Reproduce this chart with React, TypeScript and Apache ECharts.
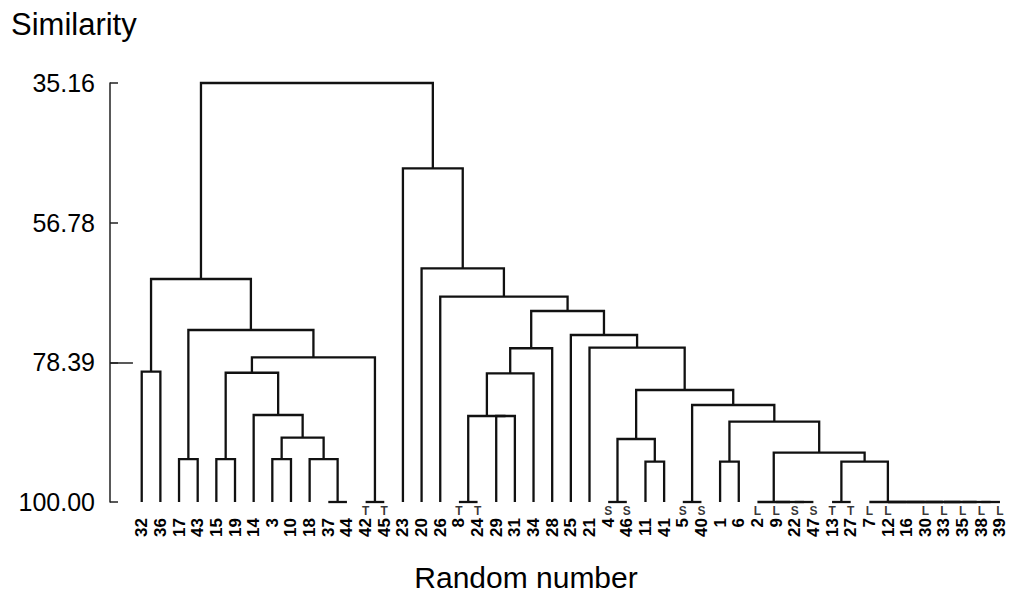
import React, { useEffect, useRef } from "react";
import * as echarts from "echarts";

// Leaves in dendrogram order (x axis tick labels)
const leafLabels = ["32","36","17","43","15","19","14","3","10","18","37","44","42","45","23","20","26","8","24","29","31","34","28","25","21","4","46","11","41","5","40","1","6","2","9","22","47","13","27","7","12","16","30","33","35","38","39"];

// Small group tags printed above some leaf labels
const leafTags: Record<string, string> = {
  "42": "T", "45": "T", "8": "T", "24": "T", "4": "S", "46": "S", "5": "S", "40": "S",
  "2": "L", "9": "L", "22": "S", "47": "S", "13": "T", "27": "T", "7": "L", "12": "L",
  "30": "L", "33": "L", "35": "L", "38": "L", "39": "L",
};

// Y tick labels (similarity)
const yTicks = [35.16, 56.78, 78.39, 100.0];
const cutLevel = 78.39;

// Merges: [child A, child B, similarity]; "mN" refers to the N-th merge
const merges: [string, string, number][] = [
  ["37", "44", 100],    // m0
  ["42", "45", 100],    // m1
  ["32", "36", 79.84],  // m2
  ["17", "43", 93.35],  // m3
  ["15", "19", 93.35],  // m4
  ["3", "10", 93.35],   // m5
  ["18", "m0", 93.35],  // m6
  ["m5", "m6", 90.05],  // m7
  ["14", "m7", 86.54],  // m8
  ["m4", "m8", 80.0],   // m9
  ["m9", "m1", 77.61],  // m10
  ["m3", "m10", 73.38], // m11
  ["m2", "m11", 65.49], // m12
  ["8", "24", 100],     // m13
  ["29", "31", 86.69],  // m14
  ["m13", "m14", 86.69],// m15
  ["m15", "34", 80.08], // m16
  ["m16", "28", 76.21], // m17
  ["4", "46", 100],     // m18
  ["11", "41", 93.76],  // m19
  ["m18", "m19", 90.25],// m20
  ["5", "40", 100],     // m21
  ["1", "6", 93.76],    // m22
  ["22", "47", 100],    // m23
  ["9", "m23", 100],    // m24
  ["2", "m24", 100],    // m25
  ["13", "27", 100],    // m26
  ["38", "39", 100],    // m27
  ["35", "m27", 100],   // m28
  ["33", "m28", 100],   // m29
  ["30", "m29", 100],   // m30
  ["16", "m30", 100],   // m31
  ["12", "m31", 100],   // m32
  ["7", "m32", 100],    // m33
  ["m26", "m33", 93.76],// m34
  ["m25", "m34", 92.37],// m35
  ["m22", "m35", 87.57],// m36
  ["m21", "m36", 84.99],// m37
  ["m20", "m37", 82.67],// m38
  ["21", "m38", 76.12], // m39
  ["25", "m39", 74.16], // m40
  ["m17", "m40", 70.44],// m41
  ["26", "m41", 68.23], // m42
  ["20", "m42", 63.84], // m43
  ["23", "m43", 48.36], // m44
  ["m12", "m44", 35.16],// m45
];

const FONT = "'Liberation Sans', Arial, Helvetica, sans-serif";

function buildSegments() {
  const pos: Record<string, { x: number; y: number }> = {};
  leafLabels.forEach((l, i) => (pos[l] = { x: i, y: 100 }));
  return merges.map(([a, b, h], i) => {
    const A = pos[a];
    const B = pos[b];
    pos["m" + i] = { x: (A.x + B.x) / 2, y: h };
    return [A.x, A.y, B.x, B.y, h];
  });
}

export default function App() {
  const ref = useRef<HTMLDivElement>(null);
  useEffect(() => {
    if (!ref.current) return;
    const chart = echarts.init(ref.current, undefined, { renderer: "svg" });
    const segs = buildSegments();
    const xMin = -1.7;
    const tagData = leafLabels
      .map((l, i) => (leafTags[l] ? [i, 100, leafTags[l]] : null))
      .filter((d) => d !== null);

    chart.setOption({
      animation: false,
      backgroundColor: "#ffffff",
      grid: { left: 110, top: 83, right: 2.7, bottom: 92, containLabel: false },
      xAxis: {
        type: "value",
        min: xMin,
        max: 46.5,
        axisLine: { show: false, onZero: false },
        axisTick: { show: false },
        splitLine: { show: false },
        axisLabel: {
          customValues: leafLabels.map((_, i) => i),
          formatter: (v: number) => leafLabels[Math.round(v)] ?? "",
          rotate: 90,
          fontSize: 17,
          fontWeight: "bold",
          fontFamily: FONT,
          color: "#000",
          margin: 16,
        },
      },
      yAxis: {
        type: "value",
        inverse: true,
        min: 35.16,
        max: 100,
        axisLine: { show: true, onZero: false, lineStyle: { color: "#222", width: 1.5 } },
        axisTick: {
          show: true,
          inside: true,
          length: 8,
          customValues: yTicks,
          lineStyle: { color: "#222", width: 1.5 },
        },
        axisLabel: {
          customValues: yTicks,
          formatter: (v: number) => v.toFixed(2),
          fontSize: 25,
          fontFamily: FONT,
          color: "#000",
          margin: 15,
        },
        splitLine: { show: false },
      },
      graphic: [
        {
          type: "text",
          left: 11,
          top: 9,
          style: { text: "Similarity", fontSize: 31, fontFamily: FONT, fill: "#000" },
        },
        {
          type: "text",
          x: 526,
          y: 577,
          style: {
            text: "Random number",
            fontSize: 30,
            fontFamily: FONT,
            fill: "#000",
            align: "center",
            verticalAlign: "middle",
          },
        },
      ],
      series: [
        {
          type: "custom",
          data: segs,
          encode: { x: [0, 2], y: [1, 3, 4] },
          clip: false,
          renderItem: (_params: any, api: any) => {
            const xa = api.value(0), ya = api.value(1), xb = api.value(2), yb = api.value(3), h = api.value(4);
            const pts = [api.coord([xa, ya]), api.coord([xa, h]), api.coord([xb, h]), api.coord([xb, yb])];
            return {
              type: "polyline",
              shape: { points: pts },
              style: { stroke: "#111", lineWidth: 2.3, fill: null },
            };
          },
        },
        {
          type: "scatter",
          data: tagData,
          symbolSize: 1,
          itemStyle: { color: "rgba(0,0,0,0)" },
          clip: false,
          label: {
            show: true,
            position: "bottom",
            distance: 2,
            formatter: (p: any) => p.data[2],
            fontSize: 12,
            fontWeight: "bold",
            fontFamily: FONT,
            color: "#000",
          },
          markLine: {
            silent: true,
            symbol: "none",
            label: { show: false },
            lineStyle: { color: "#222", width: 1.5, type: "solid" },
            data: [[{ coord: [xMin, cutLevel] }, { coord: [xMin + 1.23, cutLevel] }]],
          },
        },
      ],
    });
    return () => chart.dispose();
  }, []);
  return (
    <div
      ref={ref}
      style={{ position: "fixed", left: 0, top: 0, width: 1012, height: 594, background: "#fff" }}
    />
  );
}
